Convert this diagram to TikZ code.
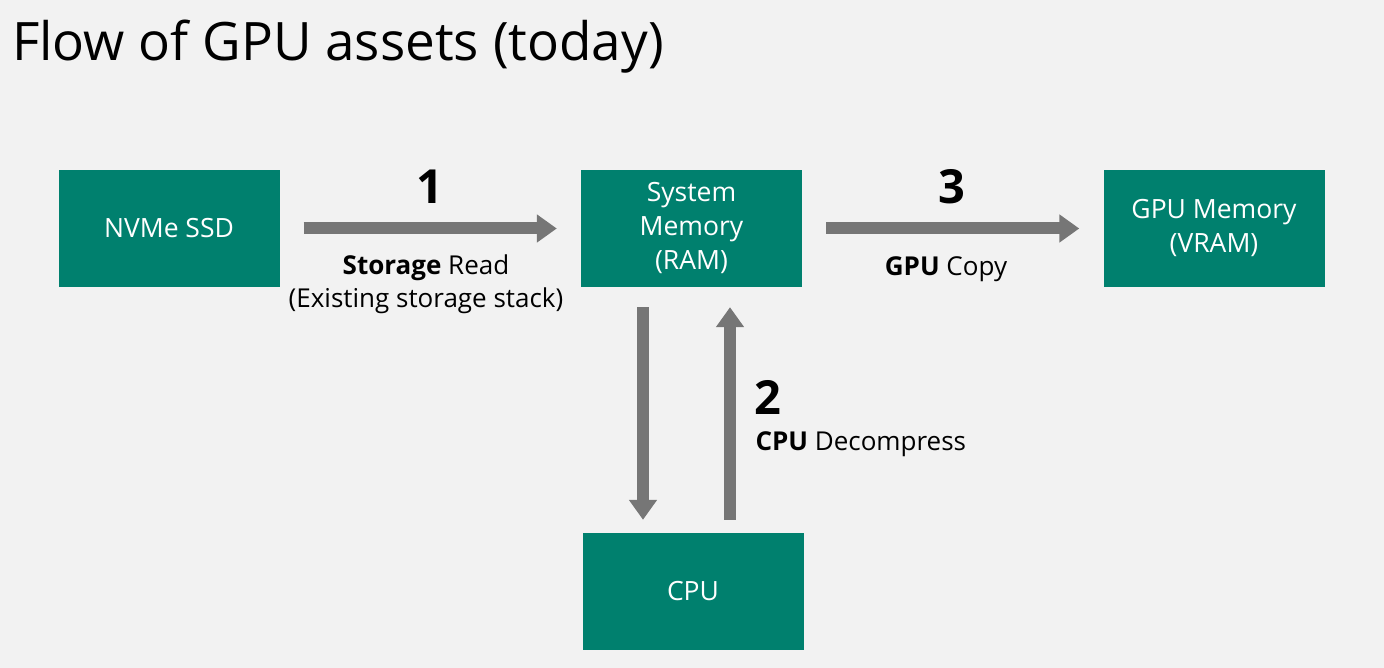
\documentclass[tikz,border=0pt]{standalone}
\usepackage{fontspec}
\setmainfont{Open Sans}
\usetikzlibrary{arrows.meta}
\definecolor{slidebg}{RGB}{242,242,242}
\definecolor{boxteal}{RGB}{0,128,110}
\definecolor{flowgray}{RGB}{118,118,118}
\begin{document}
\begin{tikzpicture}[x=1pt,y=-1pt,
	memblock/.style={fill=boxteal,text=white,minimum width=221pt,minimum height=117pt,
		inner sep=0pt,align=center,font=\fontsize{26.5}{34}\selectfont},
	flow/.style={draw=flowgray,line width=12pt,-{Triangle[length=20pt,width=27pt]}},
	stepnum/.style={font=\fontsize{47}{50}\selectfont\bfseries},
	steptext/.style={font=\fontsize{26}{33}\selectfont,align=center}]
	\fill [slidebg] (0,0) rectangle (1384,668);
	\useasboundingbox (0,0) rectangle (1384,668);
	\node [anchor=base west,inner sep=0pt,font=\fontsize{53}{56}\selectfont] (title) at (12,61) {Flow of GPU assets (today)};
	% boxes
	\node [memblock] (ssd) at (169,228.5) {NVMe SSD};
	\node [memblock] (ram) at (691.5,228.5) {System\\Memory\\(RAM)};
	\node [memblock] (vram) at (1214,228.5) {GPU Memory\\(VRAM)};
	\node [memblock] (cpu) at (693,591.5) {CPU};
	% step 1
	\draw [flow,shorten <=24pt,shorten >=24pt] (ssd) -- (ram);
	\node [stepnum] (one) at (430,187) {1};
	\node [steptext] (readlbl) at (426,284) {\textbf{Storage} Read\\(Existing storage stack)};
	% step 2
	\draw [flow,shorten <=20pt,shorten >=13pt] ([xshift=-48.5pt]ram.south) -- ([xshift=-48.5pt]ram.south |- cpu.north);
	\draw [flow,shorten <=13pt,shorten >=20pt] ([xshift=38.5pt]ram.south |- cpu.north) -- ([xshift=38.5pt]ram.south);
	\node [stepnum] (two) at (768,397) {2};
	\node [steptext,anchor=west] (decomplbl) at (752,444) {\textbf{CPU} Decompress};
	% step 3
	\draw [flow,shorten <=24pt,shorten >=24pt] (ram) -- (vram);
	\node [stepnum] (three) at (952,187) {3};
	\node [steptext] (copylbl) at (946,269.5) {\textbf{GPU} Copy};
\end{tikzpicture}
\end{document}
